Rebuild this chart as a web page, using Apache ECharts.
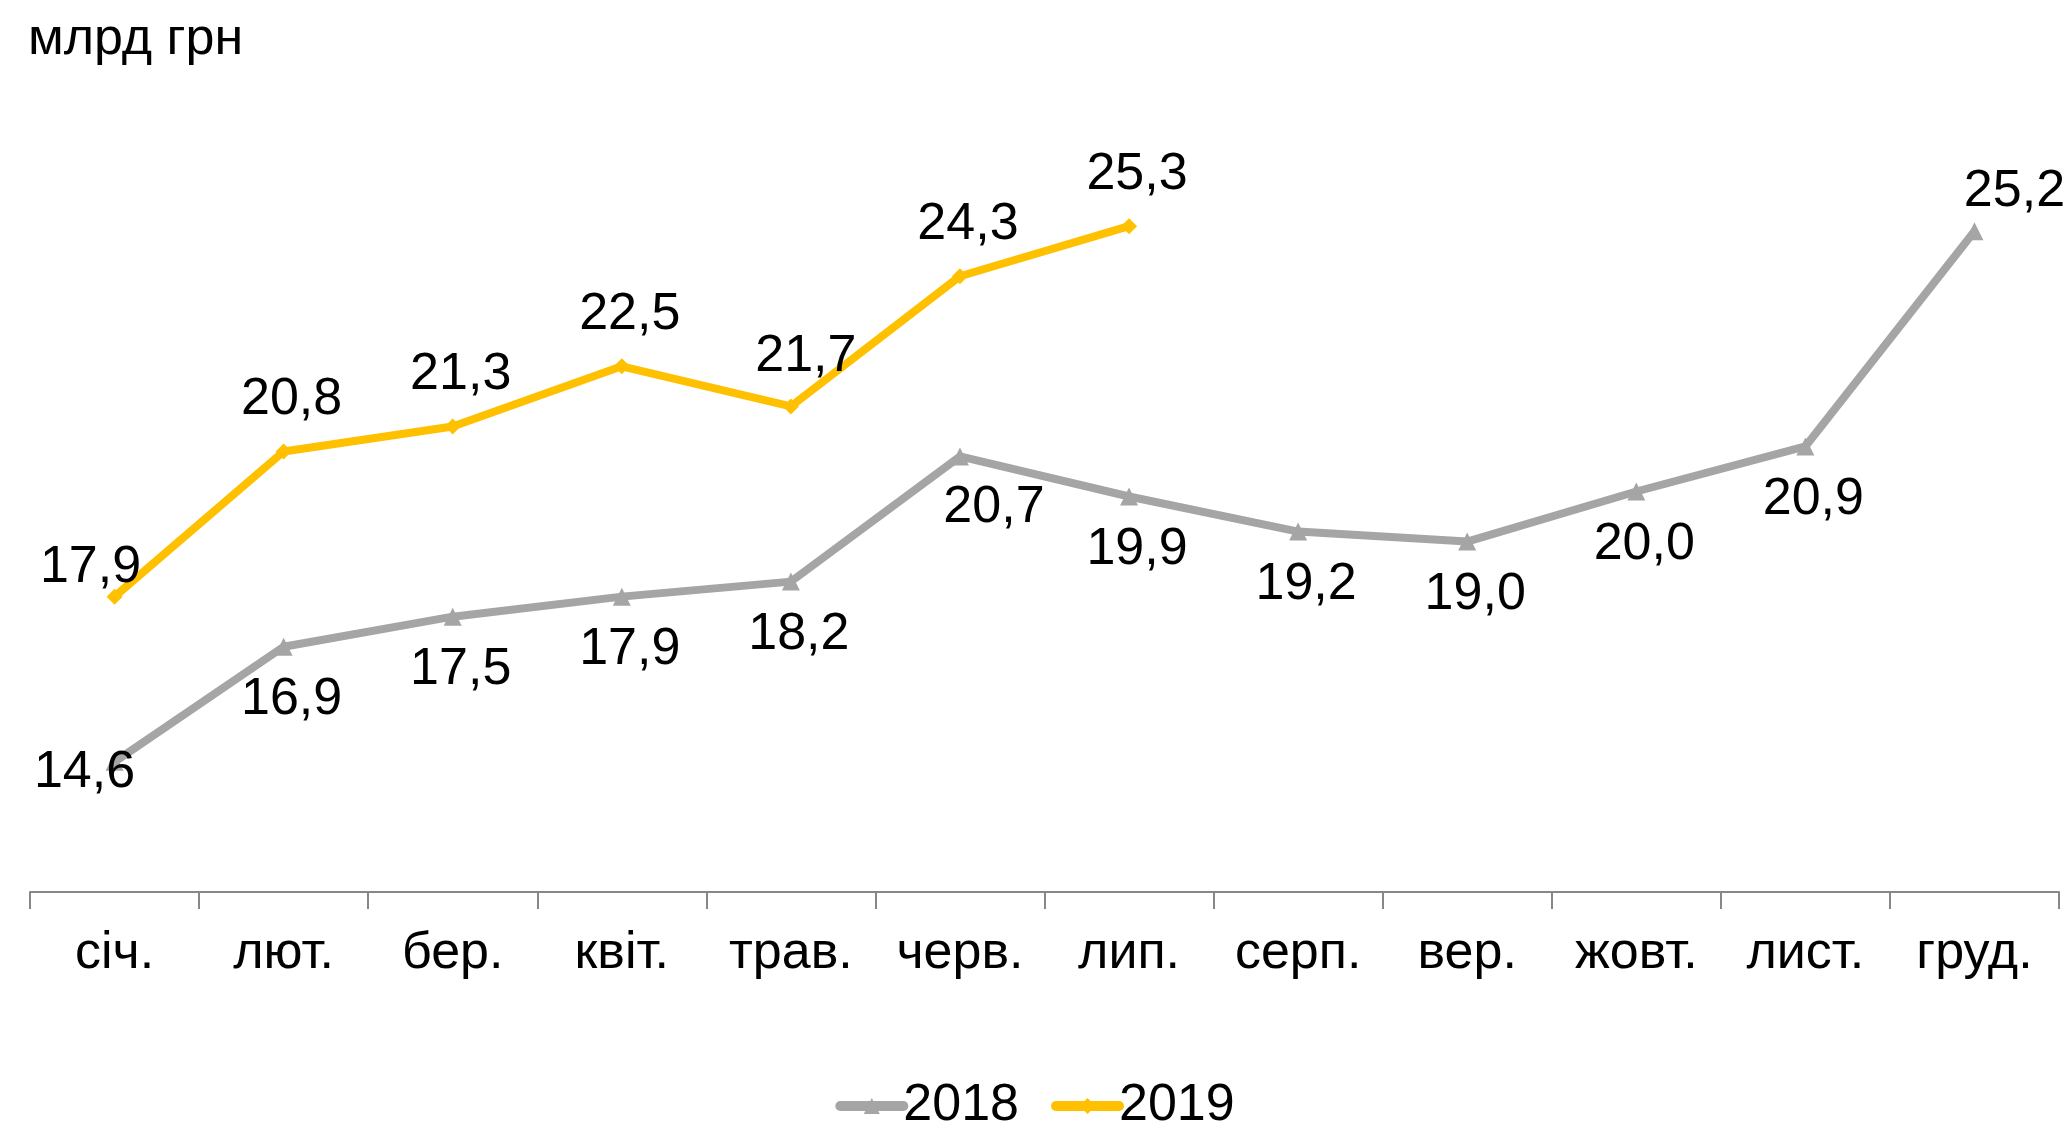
<!DOCTYPE html>
<html>
<head>
<meta charset="utf-8">
<title>млрд грн</title>
<script src="https://cdn.jsdelivr.net/npm/echarts@6/dist/echarts.min.js"></script>
<style>
    html, body { margin: 0; padding: 0; background: #fff; }
    #chart { width: 2070px; height: 1125px; }
</style>
</head>
<body>
<div id="chart"></div>
<script>
// місяці
var months = ['січ.', 'лют.', 'бер.', 'квіт.', 'трав.', 'черв.', 'лип.', 'серп.', 'вер.', 'жовт.', 'лист.', 'груд.'];
// значення, млрд грн
var data2018 = [14.6, 16.9, 17.5, 17.9, 18.2, 20.7, 19.9, 19.2, 19.0, 20.0, 20.9, 25.2];
var data2019 = [17.9, 20.8, 21.3, 22.5, 21.7, 24.3, 25.3];
var seriesNames = ['2018', '2019'];

var FONT = "'Liberation Sans', Arial, sans-serif";

function fmt(p) {
    return p.value.toFixed(1).replace('.', ',');
}

// зсуви підписів для окремих точок
var offsets2018 = { 0: [-30, 11], 5: [34, 51], 11: [40, -40] };
var offsets2019 = { 0: [-24, -29], 4: [15, -50] };

function withLabels(arr, special) {
    var out = [];
    for (let i = 0; i < arr.length; i++) {
        var item = { value: arr[i] };
        if (special[i]) {
            item.label = { offset: special[i] };
        }
        out.push(item);
    }
    return out;
}

var myChart = echarts.init(document.getElementById('chart'));

var option = {
    backgroundColor: '#ffffff',
    animation: false,
    textStyle: { fontFamily: FONT },
    graphic: [{
        type: 'text',
        left: 28,
        top: 14,
        style: {
            text: 'млрд грн',
            font: '52px ' + FONT,
            fill: '#000'
        }
    }],
    legend: {
        bottom: -12,
        left: 'center',
        itemWidth: 63,
        itemHeight: 20,
        itemGap: 32,
        lineStyle: { width: 10, cap: 'round' },
        textStyle: { fontSize: 52, color: '#000', fontFamily: FONT, padding: [0, 0, 0, -5] },
        data: seriesNames
    },
    grid: {
        left: 30,
        right: 11,
        top: 91,
        bottom: 233,
        containLabel: false
    },
    xAxis: {
        type: 'category',
        data: months,
        boundaryGap: true,
        axisLine: { lineStyle: { color: '#878787', width: 2 } },
        axisTick: { show: true, length: 17, inside: false, lineStyle: { color: '#878787', width: 2 } },
        axisLabel: { color: '#000', fontSize: 52, fontFamily: FONT, margin: 36 }
    },
    yAxis: {
        type: 'value',
        min: 12,
        max: 28,
        show: false,
        splitLine: { show: false }
    },
    series: [
        {
            name: seriesNames[0],
            type: 'line',
            data: withLabels(data2018, offsets2018),
            color: '#A5A5A5',
            symbol: 'triangle',
            symbolSize: 18,
            lineStyle: { width: 8, color: '#A5A5A5' },
            itemStyle: { color: '#A5A5A5' },
            label: {
                show: true,
                position: 'inside',
                offset: [8, 53],
                formatter: fmt,
                fontSize: 52,
                fontFamily: FONT,
                color: '#000'
            }
        },
        {
            name: seriesNames[1],
            type: 'line',
            data: withLabels(data2019, offsets2019),
            color: '#FFC000',
            symbol: 'diamond',
            symbolSize: 16,
            lineStyle: { width: 8, color: '#FFC000' },
            itemStyle: { color: '#FFC000' },
            label: {
                show: true,
                position: 'inside',
                offset: [8, -52],
                formatter: fmt,
                fontSize: 52,
                fontFamily: FONT,
                color: '#000'
            }
        }
    ]
};

myChart.setOption(option);
window.addEventListener('resize', function () {
    myChart.resize();
});
</script>
</body>
</html>
